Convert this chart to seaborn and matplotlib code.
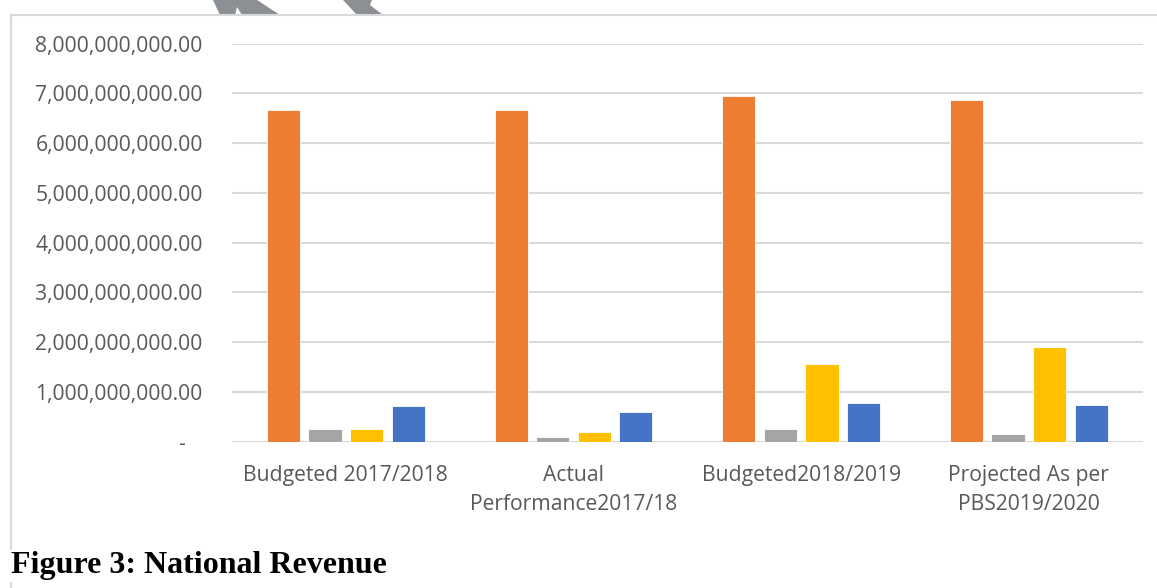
import matplotlib
matplotlib.use("Agg")
import matplotlib.pyplot as plt
import matplotlib.ticker as mticker
from matplotlib.patches import Polygon
from matplotlib.lines import Line2D
import seaborn as sns
import pandas as pd

categories = ["Budgeted 2017/2018", "Actual\nPerformance2017/18",
              "Budgeted2018/2019", "Projected As per\nPBS2019/2020"]
series_names = ["Series 1", "Series 2", "Series 3", "Series 4"]
series_1 = [6.66e9, 6.66e9, 6.94e9, 6.86e9]
series_2 = [0.25e9, 0.09e9, 0.25e9, 0.15e9]
series_3 = [0.26e9, 0.19e9, 1.56e9, 1.91e9]
series_4 = [0.72e9, 0.60e9, 0.77e9, 0.73e9]
y_ticks = [0, 1e9, 2e9, 3e9, 4e9, 5e9, 6e9, 7e9, 8e9]
caption = "Figure 3: National Revenue"

colors = ["#ED7D31", "#A5A5A5", "#FFC000", "#4472C4"]

rows = []
for name, vals in zip(series_names, [series_1, series_2, series_3, series_4]):
    for c, v in zip(categories, vals):
        rows.append({"category": c, "series": name, "value": v})
df = pd.DataFrame(rows)

sns.set_theme(style="white")
plt.rcParams["font.family"] = ["Open Sans", "DejaVu Sans"]

W, H = 1157, 588
fig = plt.figure(figsize=(W / 100, H / 100), dpi=100)
ax = fig.add_axes([232 / W, 1 - 441.7 / H, (1142.7 - 232) / W, (441.7 - 43.7) / H])

sns.barplot(data=df, x="category", y="value", hue="series", order=categories,
            hue_order=series_names, palette=colors, width=0.73, gap=0.2,
            saturation=1, legend=False, ax=ax, edgecolor="white", linewidth=0.6,
            zorder=3)

ax.set_ylim(0, 8e9)
ax.set_xlim(-0.5, 3.5)
ax.set_yticks(y_ticks)


def fmt(v, pos):
    if v == 0:
        return "-   "
    return f"{v:,.2f}"


ax.yaxis.set_major_formatter(mticker.FuncFormatter(fmt))
ax.grid(axis="y", color="#D9D9D9", linewidth=1.5, zorder=0)
ax.set_axisbelow(True)
for s in ax.spines.values():
    s.set_visible(False)
ax.tick_params(axis="both", length=0, labelsize=15.2, labelcolor="#595959")
ax.tick_params(axis="y", pad=21)
ax.tick_params(axis="x", pad=16.5)
for lab in ax.get_xticklabels():
    lab.set_linespacing(1.5)
ax.set_xlabel("")
ax.set_ylabel("")

# chart frame
fig.add_artist(Line2D([11 / W, 1.0], [1 - 15 / H, 1 - 15 / H], color="#D9D9D9",
                      linewidth=1.5, transform=fig.transFigure))
fig.add_artist(Line2D([11 / W, 11 / W], [1 - 15 / H, 0.0], color="#D9D9D9",
                      linewidth=1.5, transform=fig.transFigure))

# watermark fragments at the top
wm1 = [(213, 0), (257, 0), (280, 15), (242, 15), (237, 7), (235, 15), (220, 15)]
wm2 = [(343, 0), (372, 0), (370, 5), (383, 15), (357, 15)]
for pts in (wm1, wm2):
    fig.add_artist(Polygon([(x / W, 1 - y / H) for x, y in pts], closed=True,
                           facecolor="#8C8F94", edgecolor="none",
                           transform=fig.transFigure))

fig.text(11 / W, 1 - 566 / H, caption, fontsize=23, fontweight="bold",
         family=["Liberation Serif", "DejaVu Serif"], color="black",
         ha="left", va="center",
         bbox=dict(facecolor="white", edgecolor="none", pad=1))

fig.savefig("out.png", dpi=100, facecolor="white")
